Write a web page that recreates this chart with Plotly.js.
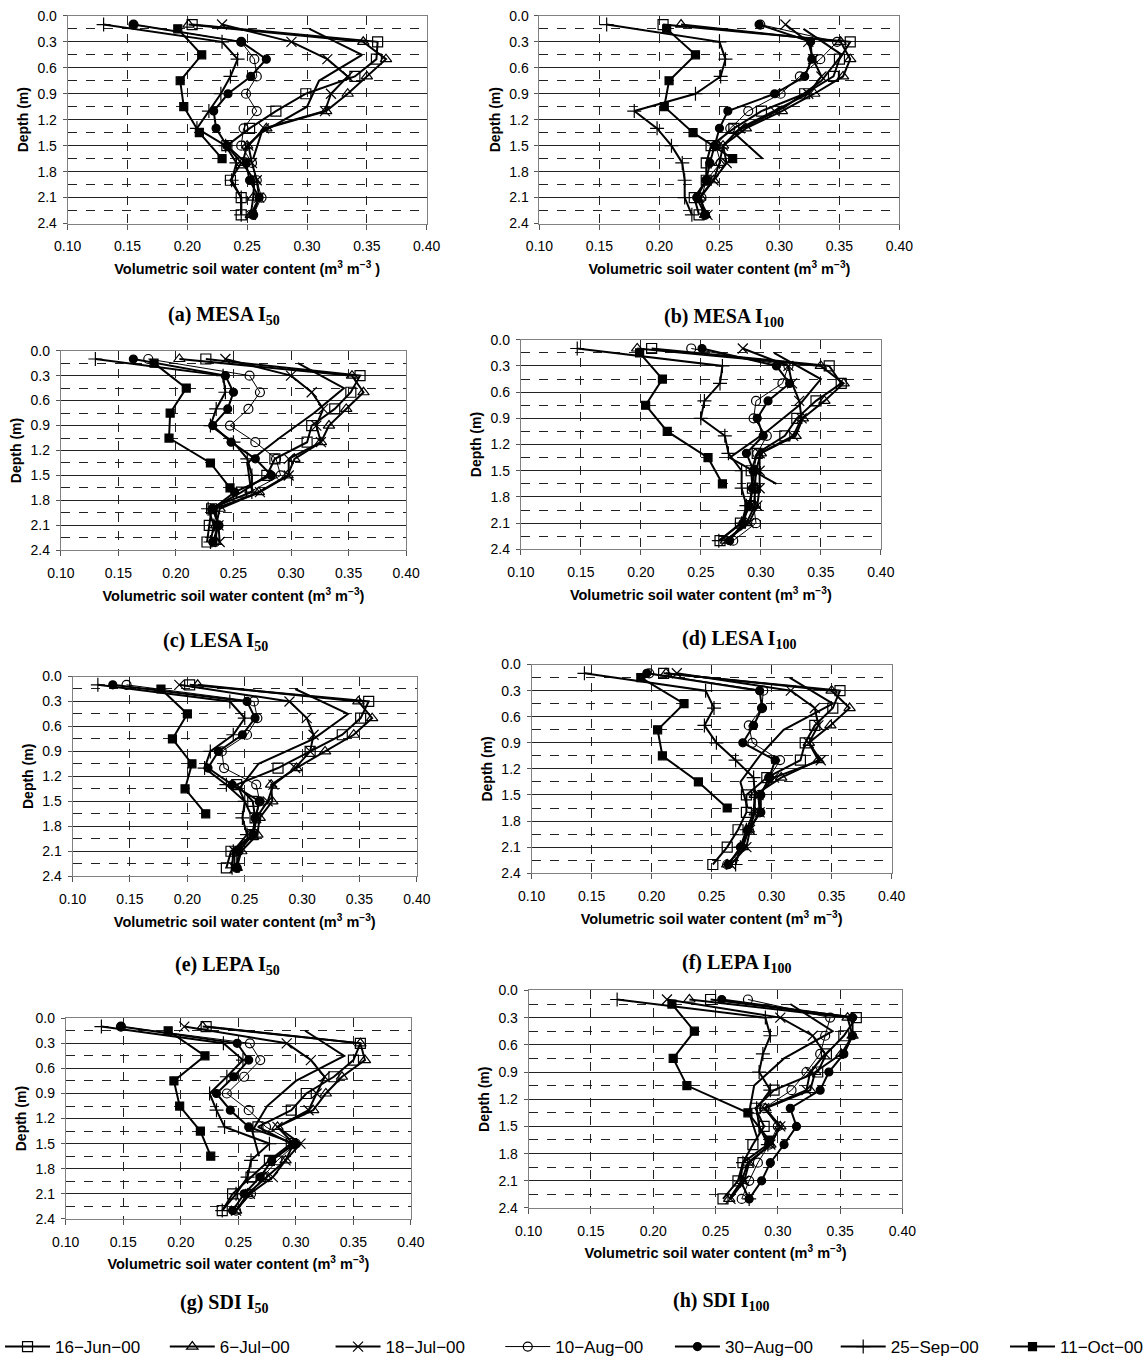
<!DOCTYPE html>
<html><head><meta charset="utf-8">
<script src="https://cdn.plot.ly/plotly-3.0.1.min.js"></script>
<style>html,body{margin:0;padding:0;background:#fff}#chart{width:1148px;height:1365px}</style>
</head><body><div id="chart"></div>
<script>
// ---------- data ----------
const depths = [0.1,0.3,0.5,0.7,0.9,1.1,1.3,1.5,1.7,1.9,2.1,2.3];
const depthsOdd = [0.15,0.45,0.75,1.05,1.35,1.65];
const seriesNames = ['16\u2212Jun\u221200','6\u2212Jul\u221200','18\u2212Jul\u221200','10\u2212Aug\u221200','30\u2212Aug\u221200','25\u2212Sep\u221200','11\u2212Oct\u221200'];
const panelLabels = ['(a) MESA I<sub>50</sub>','(b) MESA I<sub>100</sub>','(c) LESA I<sub>50</sub>','(d) LESA I<sub>100</sub>','(e) LEPA I<sub>50</sub>','(f) LEPA I<sub>100</sub>','(g) SDI I<sub>50</sub>','(h) SDI I<sub>100</sub>'];
const xTickVals = [0.10,0.15,0.20,0.25,0.30,0.35,0.40];
const xTickText = ['0.10','0.15','0.20','0.25','0.30','0.35','0.40'];
const yTickVals = [0.0,0.3,0.6,0.9,1.2,1.5,1.8,2.1,2.4];
const yTickText = ['0.0','0.3','0.6','0.9','1.2','1.5','1.8','2.1','2.4'];
const yMinorVals = [0.15,0.45,0.75,1.05,1.35,1.65,1.95,2.25];

// (a) MESA I50
const a16Jun = [0.204,0.359,0.358,0.340,0.299,0.274,0.252,0.233,0.245,0.236,0.245,0.245];
const a6Jul  = [0.201,0.347,0.366,0.350,0.334,0.316,0.266,0.250,0.246,0.256,0.255,0.253];
const a18Jul = [0.229,0.287,0.317,0.334,0.320,0.315,0.264,0.251,0.254,0.258,0.260,0.253];
const a10Aug = [0.155,0.245,0.256,0.258,0.249,0.258,0.247,0.245,0.254,0.258,0.262,0.255];
const a30Aug = [0.155,0.245,0.266,0.253,0.234,0.222,0.224,0.233,0.249,0.252,0.260,0.255];
const a25Sep = [0.130,0.229,0.242,0.236,0.228,0.218,0.208,0.232,0.241,0.237,0.245,0.245];
const a11Oct = [0.192,0.212,0.194,0.197,0.210,0.229];
const aExtra = [0.302,0.346,0.310,0.300,0.262,0.255];
// (b) MESA I100
const b16Jun = [0.203,0.359,0.350,0.345,0.321,0.285,0.262,0.243,0.239,0.239,0.229,0.233];
const b6Jul  = [0.218,0.351,0.359,0.353,0.329,0.302,0.272,0.253,0.250,0.245,0.234,0.238];
const b18Jul = [0.305,0.324,0.328,0.335,0.324,0.296,0.267,0.253,0.256,0.245,0.233,0.240];
const b10Aug = [0.284,0.348,0.334,0.317,0.301,0.274,0.259,0.247,0.251,0.239,0.235,0.238];
const b30Aug = [0.283,0.326,0.327,0.321,0.296,0.257,0.250,0.246,0.242,0.239,0.231,0.238];
const b25Sep = [0.156,0.250,0.255,0.251,0.230,0.179,0.198,0.210,0.219,0.221,0.221,0.227];
const b11Oct = [0.206,0.230,0.208,0.204,0.228,0.261];
const bExtra = [0.320,0.352,0.335,0.305,0.262,0.286];
// (c) LESA I50
const c16Jun = [0.226,0.360,0.352,0.338,0.318,0.314,0.286,0.279,0.257,0.231,0.229,0.227];
const c6Jul  = [0.203,0.353,0.363,0.348,0.333,0.326,0.303,0.297,0.272,0.238,0.235,0.235];
const c18Jul = [0.243,0.300,0.318,0.328,0.322,0.326,0.298,0.298,0.273,0.234,0.237,0.238];
const c10Aug = [0.176,0.264,0.273,0.263,0.247,0.269,0.287,0.291,0.264,0.232,0.237,0.234];
const c30Aug = [0.163,0.243,0.250,0.245,0.232,0.248,0.269,0.283,0.251,0.232,0.237,0.232];
const c25Sep = [0.130,0.241,0.243,0.235,0.230,0.250,0.262,0.266,0.266,0.228,0.233,0.230];
const c11Oct = [0.181,0.209,0.195,0.194,0.230,0.247];
const cExtra = [0.306,0.346,0.320,0.290,0.262,0.265];
// (d) LESA I100
const d16Jun = [0.209,0.357,0.367,0.346,0.330,0.320,0.297,0.292,0.293,0.291,0.283,0.266];
const d6Jul  = [0.197,0.350,0.369,0.353,0.335,0.329,0.300,0.296,0.295,0.295,0.288,0.271];
const d18Jul = [0.285,0.323,0.326,0.332,0.334,0.327,0.299,0.299,0.299,0.297,0.290,0.271];
const d10Aug = [0.242,0.323,0.318,0.296,0.294,0.305,0.297,0.294,0.295,0.294,0.296,0.277];
const d30Aug = [0.251,0.313,0.324,0.306,0.297,0.302,0.288,0.294,0.293,0.290,0.285,0.274];
const d25Sep = [0.147,0.268,0.266,0.253,0.250,0.270,0.273,0.284,0.284,0.288,0.284,0.265];
const d11Oct = [0.199,0.218,0.204,0.222,0.256,0.268];
const dExtra = [0.311,0.350,0.332,0.305,0.274,0.313];
// (e) LEPA I50
const e16Jun = [0.202,0.358,0.351,0.335,0.307,0.279,0.243,0.257,0.259,0.257,0.238,0.234];
const e6Jul  = [0.209,0.349,0.361,0.345,0.320,0.295,0.273,0.274,0.263,0.261,0.247,0.243];
const e18Jul = [0.193,0.289,0.304,0.310,0.307,0.294,0.275,0.270,0.260,0.258,0.241,0.241];
const e10Aug = [0.147,0.258,0.261,0.252,0.230,0.232,0.260,0.263,0.260,0.256,0.243,0.243];
const e30Aug = [0.135,0.252,0.259,0.248,0.227,0.218,0.239,0.263,0.259,0.257,0.245,0.243];
const e25Sep = [0.122,0.237,0.250,0.240,0.220,0.215,0.234,0.250,0.248,0.252,0.240,0.239];
const e11Oct = [0.177,0.200,0.187,0.204,0.198,0.216];
const eExtra = [0.294,0.340,0.310,0.262,0.245,0.255];
// (f) LEPA I100
const f16Jun = [0.210,0.357,0.351,0.336,0.328,0.324,0.296,0.279,0.279,0.272,0.263,0.251];
const f6Jul  = [0.212,0.350,0.365,0.349,0.331,0.339,0.308,0.286,0.286,0.281,0.276,0.263];
const f18Jul = [0.221,0.316,0.336,0.339,0.331,0.341,0.302,0.289,0.290,0.282,0.279,0.266];
const f10Aug = [0.198,0.293,0.292,0.281,0.284,0.307,0.298,0.290,0.290,0.281,0.275,0.263];
const f30Aug = [0.196,0.290,0.292,0.285,0.276,0.303,0.298,0.291,0.291,0.280,0.274,0.264];
const f25Sep = [0.144,0.245,0.252,0.244,0.254,0.270,0.285,0.286,0.285,0.279,0.274,0.270];
const f11Oct = [0.191,0.227,0.205,0.209,0.239,0.263];
const fExtra = [0.315,0.351,0.310,0.290,0.274,0.280];
// (g) SDI I50
const g16Jun = [0.222,0.356,0.350,0.333,0.309,0.296,0.267,0.296,0.277,0.261,0.245,0.236];
const g6Jul  = [0.219,0.356,0.360,0.340,0.326,0.315,0.284,0.298,0.291,0.274,0.258,0.248];
const g18Jul = [0.203,0.292,0.313,0.325,0.318,0.311,0.284,0.304,0.291,0.280,0.260,0.248];
const g10Aug = [0.148,0.260,0.269,0.255,0.240,0.259,0.274,0.300,0.284,0.271,0.261,0.248];
const g30Aug = [0.148,0.249,0.259,0.246,0.231,0.243,0.259,0.299,0.279,0.269,0.255,0.245];
const g25Sep = [0.131,0.237,0.254,0.240,0.225,0.231,0.238,0.277,0.261,0.258,0.248,0.236];
const g11Oct = [0.189,0.221,0.194,0.199,0.217,0.226];
const gExtra = [0.308,0.342,0.300,0.275,0.262,0.268];
// (h) SDI I100
const h16Jun = [0.246,0.363,0.353,0.339,0.332,0.297,0.282,0.289,0.280,0.272,0.268,0.256];
const h6Jul  = [0.229,0.356,0.360,0.351,0.330,0.326,0.290,0.302,0.294,0.276,0.271,0.261];
const h18Jul = [0.211,0.302,0.328,0.338,0.326,0.323,0.289,0.302,0.294,0.277,0.273,0.262];
const h10Aug = [0.276,0.342,0.338,0.334,0.323,0.311,0.289,0.300,0.293,0.284,0.277,0.271];
const h30Aug = [0.255,0.360,0.360,0.353,0.341,0.334,0.310,0.315,0.305,0.294,0.287,0.277];
const h25Sep = [0.171,0.290,0.294,0.288,0.285,0.294,0.283,0.285,0.292,0.272,0.270,0.277];
const h11Oct = [0.215,0.233,0.216,0.227,0.276,0.293];
const hExtra = [0.310,0.344,0.305,0.281,0.277,0.284];

const panelSeries = [
  [a16Jun,a6Jul,a18Jul,a10Aug,a30Aug,a25Sep,a11Oct,aExtra],
  [b16Jun,b6Jul,b18Jul,b10Aug,b30Aug,b25Sep,b11Oct,bExtra],
  [c16Jun,c6Jul,c18Jul,c10Aug,c30Aug,c25Sep,c11Oct,cExtra],
  [d16Jun,d6Jul,d18Jul,d10Aug,d30Aug,d25Sep,d11Oct,dExtra],
  [e16Jun,e6Jul,e18Jul,e10Aug,e30Aug,e25Sep,e11Oct,eExtra],
  [f16Jun,f6Jul,f18Jul,f10Aug,f30Aug,f25Sep,f11Oct,fExtra],
  [g16Jun,g6Jul,g18Jul,g10Aug,g30Aug,g25Sep,g11Oct,gExtra],
  [h16Jun,h6Jul,h18Jul,h10Aug,h30Aug,h25Sep,h11Oct,hExtra]
];

// ---------- layout / style ----------
const W = 1148, H = 1365;
const FONT = 'Liberation Sans, Arial, sans-serif';
const SERIF = 'Liberation Serif, Times New Roman, serif';
// plot boxes in px: [left, right, top, bottom]
const boxes = [
  [68,434,16,225],[549,916,16,225],
  [61,413,353,554],[530,897,342,553],
  [73,424,681,882],[541,908,669,879],
  [66,418,1025,1227],[538,919,997,1216]
];
const captionPos = [[227,318],[737,320],[219,646],[752,644],[231,972],[750,970],[227,1312],[735,1310]];
const legendStarts = [5,173,342,515,688,857,1030];

const markerStyles = [
  {symbol:'square-open', size:10, lw:2},
  {symbol:'triangle-up-open', size:10, lw:2},
  {symbol:'x-thin-open', size:10, lw:2},
  {symbol:'circle-open', size:9, lw:1},
  {symbol:'circle', size:8, lw:2},
  {symbol:'cross-thin-open', size:10, lw:2},
  {symbol:'square', size:8, lw:2}
];

const traces = [];
const layout = {
  width: W, height: H, margin:{l:0,r:0,t:0,b:0},
  paper_bgcolor:'#fff', plot_bgcolor:'#fff',
  font:{family:FONT, color:'#000'},
  annotations: [], showlegend: true
};

for (let p = 0; p < 8; p++) {
  const n = p === 0 ? '' : String(p+1);
  const xa = 'x'+n, ya = 'y'+n;
  const s = panelSeries[p];
  // unlabeled line (no markers)
  traces.push({x: s[7], y: depthsOdd, xaxis: xa, yaxis: ya, mode:'lines',
    line:{color:'#000', width:2}, showlegend:false, hoverinfo:'skip'});
  for (let k = 0; k < 7; k++) {
    const st = markerStyles[k];
    const t = {
      x: s[k], y: (k === 6 ? depthsOdd : depths), xaxis: xa, yaxis: ya,
      mode:'lines+markers', name: seriesNames[k],
      line:{color:'#000', width: st.lw},
      marker:{symbol: st.symbol, size: st.size, color:'#000', line:{color:'#000', width:1.2}},
      showlegend: p === 0
    };
    if (p === 0) t.legend = k === 0 ? 'legend' : 'legend'+(k+1);
    traces.push(t);
  }
  const b = boxes[p];
  const xTitle = p === 0 ? 'Volumetric soil water content (m<sup>3</sup> m<sup>\u22123</sup> )'
                         : 'Volumetric soil water content (m<sup>3</sup> m<sup>\u22123</sup>)';
  layout['xaxis'+n] = {
    domain:[b[0]/W, b[1]/W], anchor: ya, range:[0.10,0.40],
    tickmode:'array', tickvals:xTickVals, ticktext:xTickText,
    showgrid:true, gridcolor:'#222', gridwidth:1, griddash:'9px,9px',
    showline:true, mirror:true, linecolor:'#808080', linewidth:1,
    ticks:'outside', ticklen:5, tickcolor:'#555', zeroline:false, ticklabelstandoff:5,
    tickfont:{size:14, family:FONT},
    title:{text:xTitle, font:{size:14.5, family:FONT, weight:'bold'}, standoff:10}
  };
  layout['yaxis'+n] = {
    domain:[1-b[3]/H, 1-b[2]/H], anchor: xa, range:[2.4,0],
    tickmode:'array', tickvals:yTickVals, ticktext:yTickText,
    showgrid:true, gridcolor:'#222', gridwidth:1,
    minor:{tickmode:'array', tickvals:yMinorVals, showgrid:true, gridcolor:'#222', gridwidth:1, griddash:'9px,9px', ticks:''},
    showline:true, mirror:true, linecolor:'#808080', linewidth:1,
    ticks:'outside', ticklen:4, tickcolor:'#555', zeroline:false, ticklabelstandoff:3,
    tickfont:{size:14, family:FONT},
    title:{text:'Depth (m)', font:{size:14, family:FONT, weight:'bold'}, standoff:5}
  };
  layout.annotations.push({
    xref:'paper', yref:'paper', x: captionPos[p][0]/W, y: 1-captionPos[p][1]/H,
    xanchor:'center', yanchor:'middle', showarrow:false,
    text: panelLabels[p], font:{family:SERIF, size:20, color:'#000', weight:'bold'}
  });
}

for (let k = 0; k < 7; k++) {
  const key = k === 0 ? 'legend' : 'legend'+(k+1);
  layout[key] = {
    x: (legendStarts[k]-6)/W, y: 1-1356/H, xanchor:'left', yanchor:'middle',
    orientation:'h', bgcolor:'rgba(0,0,0,0)', borderwidth:0,
    font:{size:17, family:FONT, color:'#000'}, itemwidth:45
  };
}

Plotly.newPlot('chart', traces, layout, {staticPlot:true, displayModeBar:false});
</script>
</body></html>
